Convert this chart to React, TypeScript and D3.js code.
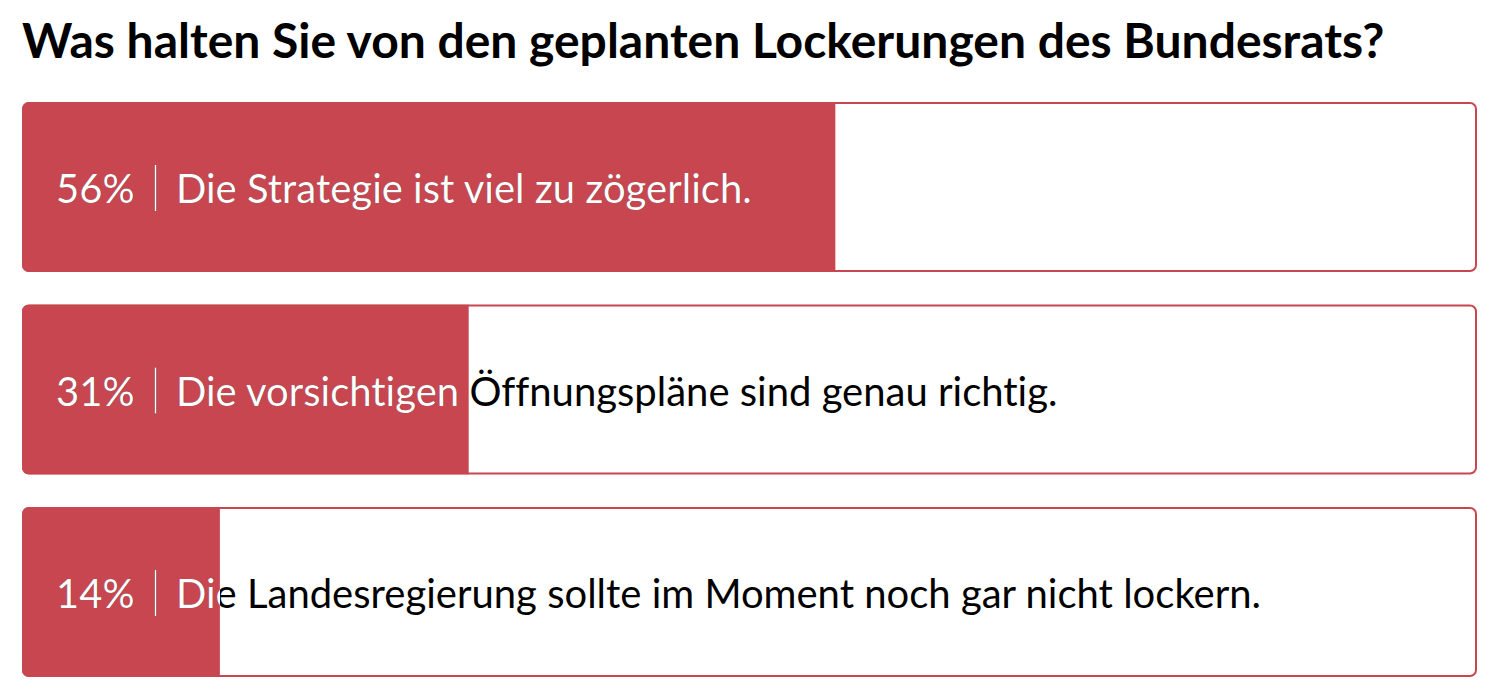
import { useEffect, useRef } from "react";
import * as d3 from "d3";

const WIDTH = 1496;
const HEIGHT = 696;
const BOX = { left: 22, right: 1477, top: 102, height: 170, gap: 32.5 };
const RED = "#c84650";
const FONT = "Lato, 'Open Sans', sans-serif";

const TITLE = "Was halten Sie von den geplanten Lockerungen des Bundesrats?";
const ANSWERS = [
  "Die Strategie ist viel zu zögerlich.",
  "Die vorsichtigen Öffnungspläne sind genau richtig.",
  "Die Landesregierung sollte im Moment noch gar nicht lockern.",
];
// shares (labels are rounded)
const SHARES = [55.9, 30.7, 13.6];

function App() {
  const ref = useRef<SVGSVGElement>(null);

  useEffect(() => {
    const svg = d3.select(ref.current);
    svg.selectAll("*").remove();

    const x = d3.scaleLinear().domain([0, 100]).range([BOX.left, BOX.right]);
    const y = d3
      .scaleBand<number>()
      .domain(d3.range(ANSWERS.length))
      .range([BOX.top, BOX.top + ANSWERS.length * (BOX.height + BOX.gap) - BOX.gap])
      .paddingInner(BOX.gap / (BOX.height + BOX.gap));

    svg
      .append("text")
      .attr("x", 22)
      .attr("y", 58)
      .attr("font-family", FONT)
      .attr("font-weight", 700)
      .attr("font-size", 48)
      .attr("fill", "#000")
      .text(TITLE);

    const defs = svg.append("defs");

    ANSWERS.forEach((label, i) => {
      const top = y(i)!;
      const h = y.bandwidth();
      const boxW = BOX.right - BOX.left;
      const cy = top + h / 2;

      // rounded clip for the whole box
      defs
        .append("clipPath")
        .attr("id", `box-${i}`)
        .append("rect")
        .attr("x", BOX.left)
        .attr("y", top)
        .attr("width", boxW)
        .attr("height", h)
        .attr("rx", 7);

      defs
        .append("clipPath")
        .attr("id", `bar-${i}`)
        .append("rect")
        .attr("x", BOX.left)
        .attr("y", top)
        .attr("width", x(SHARES[i]) - BOX.left)
        .attr("height", h);

      const g = svg.append("g");

      g.append("rect")
        .attr("x", BOX.left)
        .attr("y", top)
        .attr("width", x(SHARES[i]) - BOX.left)
        .attr("height", h)
        .attr("fill", RED)
        .attr("clip-path", `url(#box-${i})`);

      g.append("rect")
        .attr("x", BOX.left + 1)
        .attr("y", top + 1)
        .attr("width", boxW - 2)
        .attr("height", h - 2)
        .attr("rx", 6)
        .attr("fill", "none")
        .attr("stroke", RED)
        .attr("stroke-width", 2);

      const drawText = (sel: any, color: string) => {
        sel
          .append("text")
          .attr("x", 56)
          .attr("y", cy + 16)
          .attr("font-family", FONT)
          .attr("font-size", 40)
          .attr("fill", color)
          .style("font-variant-ligatures", "none")
          .text(`${Math.round(SHARES[i])}%`);
        sel
          .append("line")
          .attr("x1", 155.5)
          .attr("x2", 155.5)
          .attr("y1", cy - 22)
          .attr("y2", cy + 24)
          .attr("stroke", color)
          .attr("stroke-width", 1.5);
        sel
          .append("text")
          .attr("x", 176)
          .attr("y", cy + 16)
          .attr("font-family", FONT)
          .attr("font-size", 40)
          .attr("fill", color)
          .style("font-variant-ligatures", "none")
          .text(label);
      };

      drawText(g.append("g"), "#000");
      drawText(g.append("g").attr("clip-path", `url(#bar-${i})`), "#fff");
    });
  }, []);

  return (
    <svg
      ref={ref}
      width={WIDTH}
      height={HEIGHT}
      style={{ position: "absolute", left: 0, top: 0, background: "#fff" }}
    />
  );
}

export default App;
